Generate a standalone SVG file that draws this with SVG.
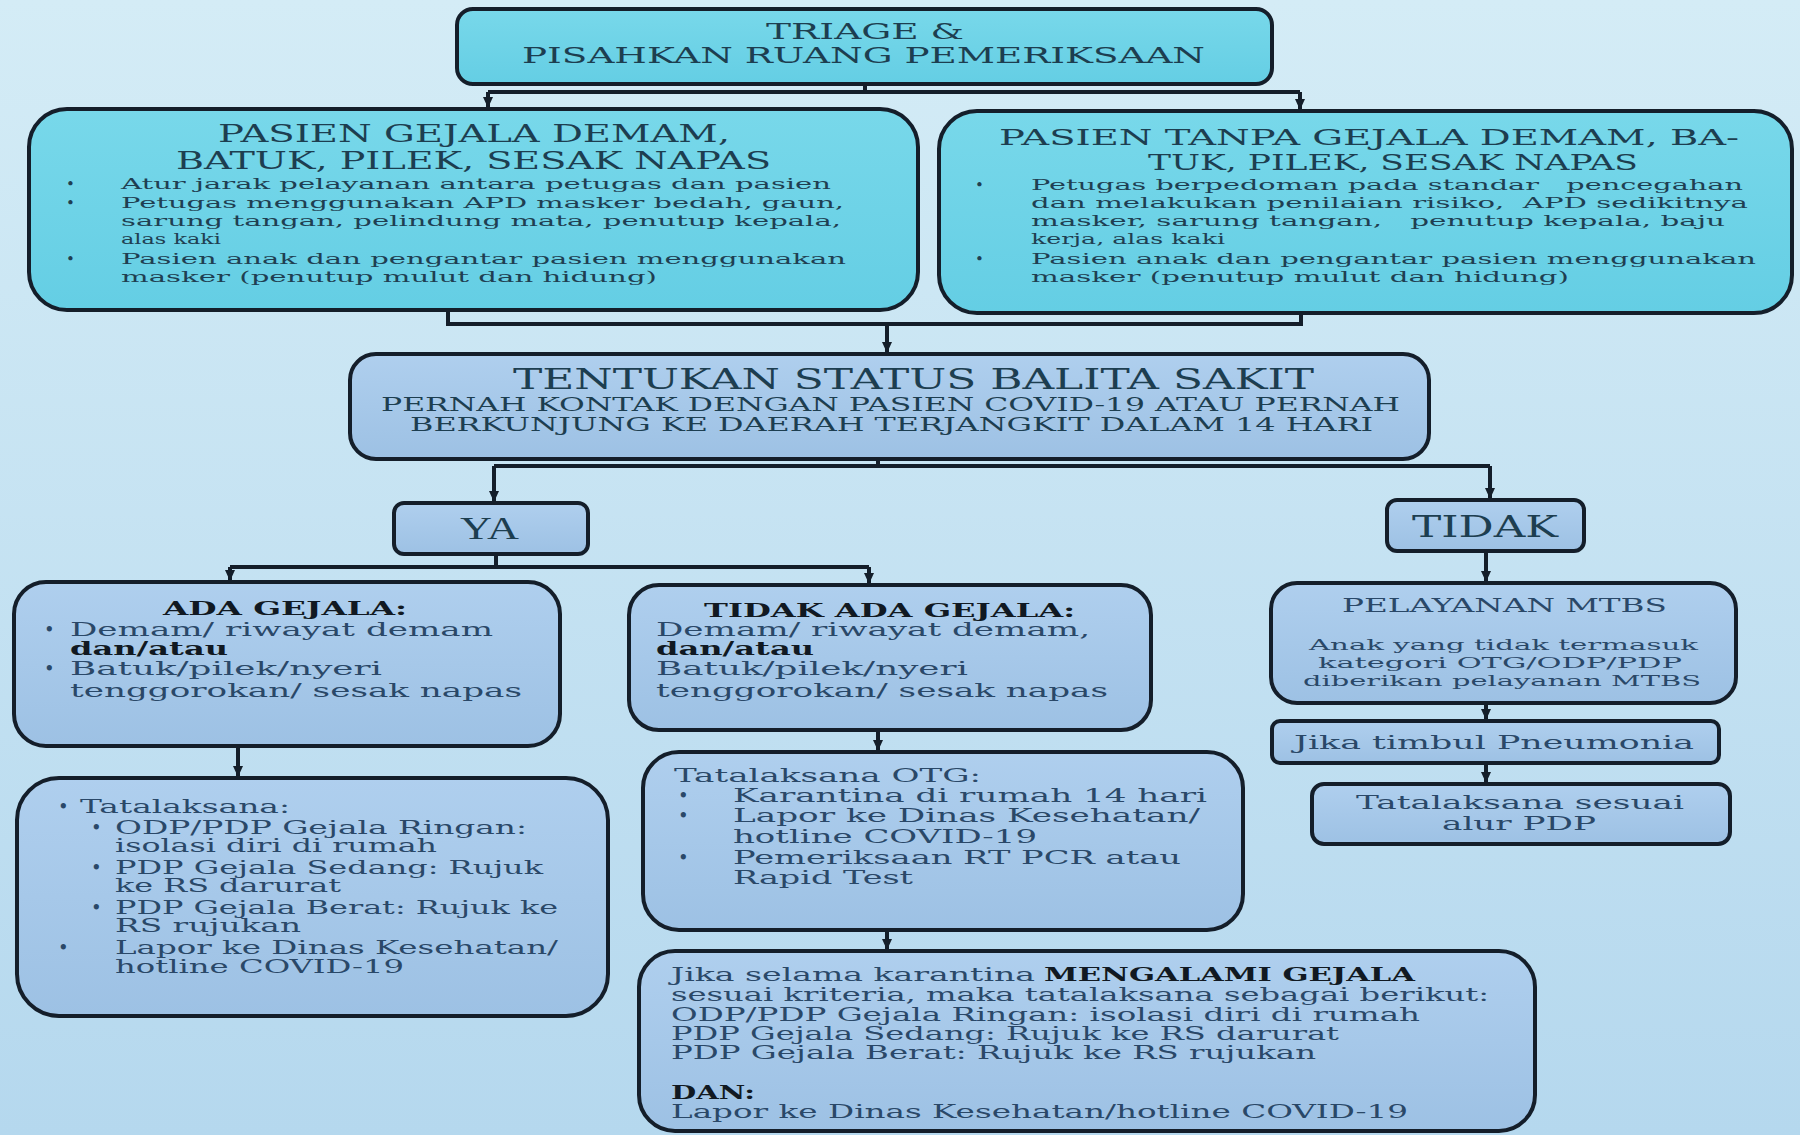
<svg xmlns="http://www.w3.org/2000/svg" width="1800" height="1135" viewBox="0 0 1800 1135">
<defs>
  <linearGradient id="bg" x1="0" y1="0" x2="0" y2="1">
    <stop offset="0" stop-color="#d4ecf6"/>
    <stop offset="1" stop-color="#b5d8ee"/>
  </linearGradient>
  <linearGradient id="cyan" x1="0" y1="0" x2="0" y2="1">
    <stop offset="0" stop-color="#78d8ea"/>
    <stop offset="1" stop-color="#64cee4"/>
  </linearGradient>
  <linearGradient id="steel" x1="0" y1="0" x2="0" y2="1">
    <stop offset="0" stop-color="#afcfee"/>
    <stop offset="1" stop-color="#9dc1e4"/>
  </linearGradient>
  <marker id="arr" markerUnits="userSpaceOnUse" markerWidth="12" markerHeight="12" refX="10" refY="6" orient="auto">
    <path d="M0,1 L11,6 L0,11 z" fill="#141e2a"/>
  </marker>
  <style>
    .box{stroke:#141e2a;stroke-width:4}
    .cy{fill:url(#cyan)}
    .st{fill:url(#steel)}
    .ln{fill:none;stroke:#141e2a;stroke-width:4}
    .ar{fill:none;stroke:#141e2a;stroke-width:4;marker-end:url(#arr)}
    text{font-family:"DejaVu Serif","Liberation Serif",serif;white-space:pre}
    .tc{fill:#1d3e50}
    .tt{fill:#1d3e50;font-size:24px}
    .tb{fill:#1f3f52;font-size:15px}
    .lt{fill:#2a4868;font-size:18px}
    .lb{fill:#111922;font-size:18px;font-weight:bold}
    .sm{fill:#2a4868;font-size:14px}
  </style>
</defs>
<rect x="0" y="0" width="1800" height="1135" fill="url(#bg)"/>

<g id="connectors">
  <path class="ln" d="M865,84 V92 M488,92 H1300"/>
  <path class="ar" d="M488,92 V107"/>
  <path class="ar" d="M1300,92 V109"/>
  <path class="ln" d="M448,310 V324 H1301 V313"/>
  <path class="ar" d="M887,324 V352"/>
  <path class="ln" d="M878,459 V466 M494,466 H1490"/>
  <path class="ar" d="M494,466 V501"/>
  <path class="ar" d="M1490,466 V498"/>
  <path class="ln" d="M496,554 V567 M230,567 H869"/>
  <path class="ar" d="M230,567 V580"/>
  <path class="ar" d="M869,567 V583"/>
  <path class="ar" d="M238,746 V776"/>
  <path class="ar" d="M878,730 V750"/>
  <path class="ar" d="M887,930 V949"/>
  <path class="ar" d="M1486,551 V581"/>
  <path class="ar" d="M1486,703 V719"/>
  <path class="ar" d="M1486,763 V782"/>
</g>

<g id="triage">
  <rect class="box cy" x="457" y="9" width="815" height="75" rx="16"/>
  <text class="tc" font-size="22" x="766" y="39" textLength="198" lengthAdjust="spacingAndGlyphs">TRIAGE &amp;</text>
  <text class="tc" font-size="22" x="522" y="63" textLength="683" lengthAdjust="spacingAndGlyphs">PISAHKAN RUANG PEMERIKSAAN</text>
</g>

<g id="pasien-gejala">
  <rect class="box cy" x="29" y="109" width="889" height="201" rx="38"/>
  <text class="tt" x="218" y="142" textLength="512" lengthAdjust="spacingAndGlyphs">PASIEN GEJALA DEMAM,</text>
  <text class="tt" x="176" y="169" textLength="595" lengthAdjust="spacingAndGlyphs">BATUK, PILEK, SESAK NAPAS</text>
  <text class="tb" x="66" y="189">•</text>
  <text class="tb" x="121" y="189" textLength="710" lengthAdjust="spacingAndGlyphs">Atur jarak pelayanan antara petugas dan pasien</text>
  <text class="tb" x="66" y="208">•</text>
  <text class="tb" x="121" y="208" textLength="723" lengthAdjust="spacingAndGlyphs">Petugas menggunakan APD masker bedah, gaun,</text>
  <text class="tb" x="121" y="226" textLength="720" lengthAdjust="spacingAndGlyphs">sarung tangan, pelindung mata, penutup kepala,</text>
  <text class="tb" x="121" y="244" textLength="100" lengthAdjust="spacingAndGlyphs">alas kaki</text>
  <text class="tb" x="66" y="264">•</text>
  <text class="tb" x="121" y="264" textLength="725" lengthAdjust="spacingAndGlyphs">Pasien anak dan pengantar pasien menggunakan</text>
  <text class="tb" x="121" y="282" textLength="536" lengthAdjust="spacingAndGlyphs">masker (penutup mulut dan hidung)</text>
</g>

<g id="pasien-tanpa-gejala">
  <rect class="box cy" x="939" y="111" width="853" height="202" rx="38"/>
  <text class="tc" font-size="22" x="999" y="145" textLength="740" lengthAdjust="spacingAndGlyphs">PASIEN TANPA GEJALA DEMAM, BA-</text>
  <text class="tc" font-size="22" x="1148" y="170" textLength="490" lengthAdjust="spacingAndGlyphs">TUK, PILEK, SESAK NAPAS</text>
  <text class="tb" x="975" y="190">•</text>
  <text class="tb" x="1031" y="190" textLength="712" lengthAdjust="spacingAndGlyphs">Petugas berpedoman pada standar   pencegahan</text>
  <text class="tb" x="1031" y="208" textLength="717" lengthAdjust="spacingAndGlyphs">dan melakukan penilaian risiko,  APD sedikitnya</text>
  <text class="tb" x="1031" y="226" textLength="694" lengthAdjust="spacingAndGlyphs">masker, sarung tangan,   penutup kepala, baju</text>
  <text class="tb" x="1031" y="244" textLength="194" lengthAdjust="spacingAndGlyphs">kerja, alas kaki</text>
  <text class="tb" x="975" y="264">•</text>
  <text class="tb" x="1031" y="264" textLength="725" lengthAdjust="spacingAndGlyphs">Pasien anak dan pengantar pasien menggunakan</text>
  <text class="tb" x="1031" y="282" textLength="538" lengthAdjust="spacingAndGlyphs">masker (penutup mulut dan hidung)</text>
</g>

<g id="tentukan-status">
  <rect class="box st" x="350" y="354" width="1079" height="105" rx="26"/>
  <text class="tc" font-size="28" x="513" y="389" textLength="801" lengthAdjust="spacingAndGlyphs">TENTUKAN STATUS BALITA SAKIT</text>
  <text class="tc" font-size="18" x="381" y="411" textLength="1019" lengthAdjust="spacingAndGlyphs">PERNAH KONTAK DENGAN PASIEN COVID-19 ATAU PERNAH</text>
  <text class="tc" font-size="18" x="410" y="431" textLength="963" lengthAdjust="spacingAndGlyphs">BERKUNJUNG KE DAERAH TERJANGKIT DALAM 14 HARI</text>
</g>

<g id="ya">
  <rect class="box st" x="394" y="503" width="194" height="51" rx="10"/>
  <text class="tc" style="font-family:'Liberation Serif',serif" font-size="32" x="460" y="539" textLength="59" lengthAdjust="spacingAndGlyphs">YA</text>
</g>

<g id="tidak">
  <rect class="box st" x="1387" y="500" width="197" height="51" rx="10"/>
  <text class="tc" font-size="29" x="1412" y="537" textLength="146" lengthAdjust="spacingAndGlyphs">TIDAK</text>
</g>

<g id="ada-gejala">
  <rect class="box st" x="14" y="582" width="546" height="164" rx="32"/>
  <text class="lb" x="163" y="615" textLength="244" lengthAdjust="spacingAndGlyphs">ADA GEJALA:</text>
  <text class="lt" x="44" y="636">•</text>
  <text class="lt" x="70" y="636" textLength="423" lengthAdjust="spacingAndGlyphs">Demam/ riwayat demam</text>
  <text class="lb" x="70" y="655" textLength="158" lengthAdjust="spacingAndGlyphs">dan/atau</text>
  <text class="lt" x="44" y="675">•</text>
  <text class="lt" x="70" y="675" textLength="312" lengthAdjust="spacingAndGlyphs">Batuk/pilek/nyeri</text>
  <text class="lt" x="70" y="697" textLength="452" lengthAdjust="spacingAndGlyphs">tenggorokan/ sesak napas</text>
</g>

<g id="tidak-ada-gejala">
  <rect class="box st" x="629" y="585" width="522" height="145" rx="30"/>
  <text class="lb" x="704" y="617" textLength="371" lengthAdjust="spacingAndGlyphs">TIDAK ADA GEJALA:</text>
  <text class="lt" x="656" y="636" textLength="434" lengthAdjust="spacingAndGlyphs">Demam/ riwayat demam,</text>
  <text class="lb" x="656" y="655" textLength="158" lengthAdjust="spacingAndGlyphs">dan/atau</text>
  <text class="lt" x="656" y="675" textLength="312" lengthAdjust="spacingAndGlyphs">Batuk/pilek/nyeri</text>
  <text class="lt" x="656" y="697" textLength="452" lengthAdjust="spacingAndGlyphs">tenggorokan/ sesak napas</text>
</g>

<g id="tatalaksana-gejala">
  <rect class="box st" x="17" y="778" width="591" height="238" rx="42"/>
  <text class="lt" x="58" y="813">•</text>
  <text class="lt" x="80" y="813" textLength="210" lengthAdjust="spacingAndGlyphs">Tatalaksana:</text>
  <text class="lt" x="91" y="834">•</text>
  <text class="lt" x="115" y="834" textLength="412" lengthAdjust="spacingAndGlyphs">ODP/PDP Gejala Ringan:</text>
  <text class="lt" x="115" y="852" textLength="322" lengthAdjust="spacingAndGlyphs">isolasi diri di rumah</text>
  <text class="lt" x="91" y="874">•</text>
  <text class="lt" x="115" y="874" textLength="428" lengthAdjust="spacingAndGlyphs">PDP Gejala Sedang: Rujuk</text>
  <text class="lt" x="115" y="892" textLength="226" lengthAdjust="spacingAndGlyphs">ke RS darurat</text>
  <text class="lt" x="91" y="914">•</text>
  <text class="lt" x="115" y="914" textLength="443" lengthAdjust="spacingAndGlyphs">PDP Gejala Berat: Rujuk ke</text>
  <text class="lt" x="115" y="932" textLength="186" lengthAdjust="spacingAndGlyphs">RS rujukan</text>
  <text class="lt" x="58" y="954">•</text>
  <text class="lt" x="115" y="954" textLength="443" lengthAdjust="spacingAndGlyphs">Lapor ke Dinas Kesehatan/</text>
  <text class="lt" x="115" y="973" textLength="289" lengthAdjust="spacingAndGlyphs">hotline COVID-19</text>
</g>

<g id="tatalaksana-otg">
  <rect class="box st" x="643" y="752" width="600" height="178" rx="36"/>
  <text class="lt" x="674" y="782" textLength="307" lengthAdjust="spacingAndGlyphs">Tatalaksana OTG:</text>
  <text class="lt" x="678" y="802">•</text>
  <text class="lt" x="733" y="802" textLength="474" lengthAdjust="spacingAndGlyphs">Karantina di rumah 14 hari</text>
  <text class="lt" x="678" y="822">•</text>
  <text class="lt" x="733" y="822" textLength="467" lengthAdjust="spacingAndGlyphs">Lapor ke Dinas Kesehatan/</text>
  <text class="lt" x="733" y="843" textLength="304" lengthAdjust="spacingAndGlyphs">hotline COVID-19</text>
  <text class="lt" x="678" y="864">•</text>
  <text class="lt" x="733" y="864" textLength="448" lengthAdjust="spacingAndGlyphs">Pemeriksaan RT PCR atau</text>
  <text class="lt" x="733" y="884" textLength="180" lengthAdjust="spacingAndGlyphs">Rapid Test</text>
</g>

<g id="jika-gejala">
  <rect class="box st" x="639" y="951" width="896" height="180" rx="36"/>
  <text class="lt" x="671" y="981" textLength="364" lengthAdjust="spacingAndGlyphs">Jika selama karantina</text>
  <text class="lb" x="1044" y="981" textLength="371" lengthAdjust="spacingAndGlyphs">MENGALAMI GEJALA</text>
  <text class="lt" x="671" y="1001" textLength="818" lengthAdjust="spacingAndGlyphs">sesuai kriteria, maka tatalaksana sebagai berikut:</text>
  <text class="lt" x="671" y="1021" textLength="749" lengthAdjust="spacingAndGlyphs">ODP/PDP Gejala Ringan: isolasi diri di rumah</text>
  <text class="lt" x="671" y="1040" textLength="668" lengthAdjust="spacingAndGlyphs">PDP Gejala Sedang: Rujuk ke RS darurat</text>
  <text class="lt" x="671" y="1059" textLength="645" lengthAdjust="spacingAndGlyphs">PDP Gejala Berat: Rujuk ke RS rujukan</text>
  <text class="lb" x="671" y="1099" textLength="84" lengthAdjust="spacingAndGlyphs">DAN:</text>
  <text class="lt" x="671" y="1118" textLength="737" lengthAdjust="spacingAndGlyphs">Lapor ke Dinas Kesehatan/hotline COVID-19</text>
</g>

<g id="pelayanan-mtbs">
  <rect class="box st" x="1271" y="583" width="465" height="120" rx="26"/>
  <text class="lt" x="1342" y="612" textLength="325" lengthAdjust="spacingAndGlyphs">PELAYANAN MTBS</text>
  <text class="sm" x="1309" y="650" textLength="389" lengthAdjust="spacingAndGlyphs">Anak yang tidak termasuk</text>
  <text class="sm" x="1318" y="668" textLength="364" lengthAdjust="spacingAndGlyphs">kategori OTG/ODP/PDP</text>
  <text class="sm" x="1303" y="686" textLength="398" lengthAdjust="spacingAndGlyphs">diberikan pelayanan MTBS</text>
</g>

<g id="jika-pneumonia">
  <rect class="box st" x="1272" y="721" width="447" height="42" rx="8"/>
  <text class="lt" x="1294" y="749" textLength="400" lengthAdjust="spacingAndGlyphs">Jika timbul Pneumonia</text>
</g>

<g id="tatalaksana-pdp">
  <rect class="box st" x="1312" y="784" width="418" height="60" rx="12"/>
  <text class="lt" x="1356" y="809" textLength="328" lengthAdjust="spacingAndGlyphs">Tatalaksana sesuai</text>
  <text class="lt" x="1442" y="830" textLength="154" lengthAdjust="spacingAndGlyphs">alur PDP</text>
</g>
</svg>
